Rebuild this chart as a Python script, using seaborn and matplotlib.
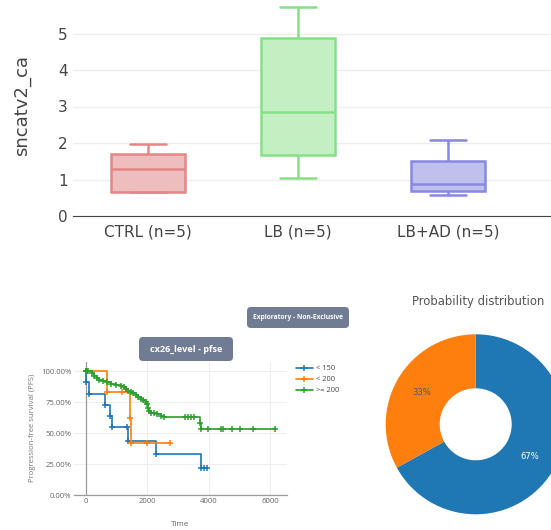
import numpy as np
import pandas as pd
import seaborn as sns
import matplotlib.pyplot as plt
from matplotlib.patches import FancyBboxPatch
from matplotlib.transforms import IdentityTransform

# ---- top panel: box plot, 5 samples per group ----
groups = ["CTRL (n=5)", "LB (n=5)", "LB+AD (n=5)"]
ctrl_vals = [0.66, 0.67, 1.28, 1.71, 1.97]
lb_vals = [1.03, 1.67, 2.84, 4.89, 5.72]
lbad_vals = [0.57, 0.69, 0.88, 1.51, 2.07]
box_edge = ["#e28686", "#86e086", "#8787e4"]
box_fill = ["#eebdbd", "#c3efc3", "#c0c0ef"]

# ---- bottom left: progression-free survival curves ----
km_labels = ["< 150", "< 200", ">= 200"]
km_colors = ["#1f77b4", "#ff7f0e", "#2ca02c"]
blue_t = [0, 10, 98, 619, 782, 837, 1340, 1378, 2270, 3750, 3840, 3930]
blue_s = [1.0, 0.909, 0.818, 0.727, 0.636, 0.545, 0.545, 0.436, 0.327, 0.218, 0.218, 0.218]
orange_t = [0, 674, 1163, 1420, 1470, 1976, 2736]
orange_s = [1.0, 0.833, 0.833, 0.625, 0.417, 0.417, 0.417]
green_t = [0, 15, 30, 50, 185, 272, 348, 424, 565, 674, 815, 978, 1130, 1239,
           1304, 1380, 1467, 1544, 1630, 1707, 1783, 1870, 1946, 1989, 2022, 2054,
           2109, 2217, 2326, 2457, 2543, 3228, 3337, 3424, 3533, 3717, 3750, 3989,
           4402, 4457, 4772, 5022, 5424, 6163]
green_s = [1.0, 1.0, 1.0, 1.0, 0.984, 0.957, 0.946, 0.930, 0.920, 0.909, 0.898, 0.890, 0.879, 0.869,
           0.853, 0.839, 0.831, 0.820, 0.807, 0.794, 0.775, 0.767, 0.753, 0.732, 0.705, 0.678,
           0.665, 0.665, 0.651, 0.635, 0.630, 0.630, 0.630, 0.630, 0.630, 0.582, 0.534, 0.534,
           0.534, 0.534, 0.534, 0.534, 0.534, 0.534]
km_yticks = [0, 0.25, 0.5, 0.75, 1.0]
km_yticklabels = ["0.00%", "25.00%", "50.00%", "75.00%", "100.00%"]
km_xticks = [0, 2000, 4000, 6000]

# ---- bottom right: donut ----
donut_vals = [67, 33]
donut_colors = ["#1f77b4", "#ff7f0e"]

sns.set_style("white")
plt.rcParams["font.family"] = ["Open Sans", "DejaVu Sans"]

W, H = 551, 530
fig = plt.figure(figsize=(W / 100, H / 100), dpi=100)


def px_axes(left, top, width, height):
    return fig.add_axes([left / W, 1 - (top + height) / H, width / W, height / H])


# top box plot
ax = px_axes(73, 0, 478, 216)
df = pd.DataFrame({
    "group": np.repeat(groups, 5),
    "value": ctrl_vals + lb_vals + lbad_vals,
})
for g, fc, ec in zip(groups, box_fill, box_edge):
    sns.boxplot(data=df[df["group"] == g], x="group", y="value", order=groups,
                color=fc, linecolor=ec, saturation=1, width=0.49, linewidth=1.8,
                ax=ax)
ax.set_xlim(-0.5, 2.5 + 28 / 150)
ax.set_ylim(0, 216 / 36.5)
ax.set_yticks(range(6))
ax.yaxis.grid(True, color="#eeeeee", lw=1)
ax.set_axisbelow(True)
for s in ["top", "right", "left"]:
    ax.spines[s].set_visible(False)
ax.spines["bottom"].set_color("#444444")
ax.tick_params(axis="both", length=0, labelsize=11, labelcolor="#444444")
ax.tick_params(axis="y", pad=4)
ax.tick_params(axis="x", pad=6)
for lbl in ax.get_xticklabels() + ax.get_yticklabels():
    lbl.set_family("DejaVu Sans")
ax.set_xlabel("")
ax.set_ylabel("")
fig.text(22 / W, 1 - 106 / H, "sncatv2_ca", rotation=90, ha="center", va="center",
         fontsize=13, color="#444444", family="DejaVu Sans")

# survival plot
km = px_axes(74, 362, 213, 133)
for t, s, c, lab in zip([blue_t, orange_t, green_t], [blue_s, orange_s, green_s],
                        km_colors, km_labels):
    sns.lineplot(x=t, y=s, color=c, label=lab, drawstyle="steps-post", marker="+",
                 markersize=4, markeredgewidth=1.1, markeredgecolor=c, lw=1.2,
                 estimator=None, sort=False, ax=km)
km.set_xlim(-390, 6547)
km.set_ylim(0, 1.073)
km.set_yticks(km_yticks)
km.set_yticklabels(km_yticklabels)
km.set_xticks(km_xticks)
km.grid(True, color="#eeeeee", lw=0.8)
km.axvline(0, color="#9a9a9a", lw=0.9, zorder=1)
for s in ["top", "right", "left"]:
    km.spines[s].set_visible(False)
km.spines["bottom"].set_color("#9a9a9a")
km.spines["bottom"].set_linewidth(0.9)
km.tick_params(axis="both", length=0, labelsize=5.6, labelcolor="#666666", pad=2)
km.set_xlabel("")
km.set_ylabel("")
fig.text(32 / W, 1 - 428 / H, "Progression-free survival (PFS)", rotation=90,
         ha="center", va="center", fontsize=5.6, color="#777777")
fig.text(180 / W, 1 - 524 / H, "Time", ha="center", va="center", fontsize=5.8,
         color="#666666")
km.legend(loc="upper left", bbox_to_anchor=(296 / W, 1 - 365 / H),
          bbox_transform=fig.transFigure, frameon=False, fontsize=5.4,
          handlelength=2.2, handletextpad=0.5, labelspacing=0.5, borderpad=0,
          borderaxespad=0, labelcolor="#444444")

# badges above survival plot
for (x0, y0, bw, bh), txt, fs in [((247, 307, 102, 21), "Exploratory - Non-Exclusive", 4.8),
                                 ((139, 337, 94, 24), "cx26_level - pfse", 6.6)]:
    fig.patches.append(FancyBboxPatch((x0, H - y0 - bh), bw, bh,
                                      boxstyle="round,pad=0,rounding_size=4",
                                      fc="#6f7c93", ec="none",
                                      transform=IdentityTransform(), figure=fig))
    fig.text((x0 + bw / 2) / W, 1 - (y0 + bh / 2) / H, txt, ha="center", va="center",
             fontsize=fs, color="white", fontweight="bold")

# donut
pie = px_axes(475.7 - 112.5, 424.3 - 112.5, 225, 225)
wedges, texts, autotexts = pie.pie(donut_vals, colors=donut_colors, startangle=90,
                                   counterclock=False, autopct="%1.0f%%",
                                   pctdistance=0.7,
                                   wedgeprops=dict(width=0.6, linewidth=0, edgecolor="none"),
                                   textprops=dict(fontsize=6, family="DejaVu Sans"))
autotexts[0].set_color("white")
autotexts[1].set_color("#555555")
fig.text(478 / W, 1 - 302 / H, "Probability distribution", ha="center", va="center",
         fontsize=8.4, color="#555555", family="DejaVu Sans")

plt.savefig("out.png", dpi=100)
plt.close()
